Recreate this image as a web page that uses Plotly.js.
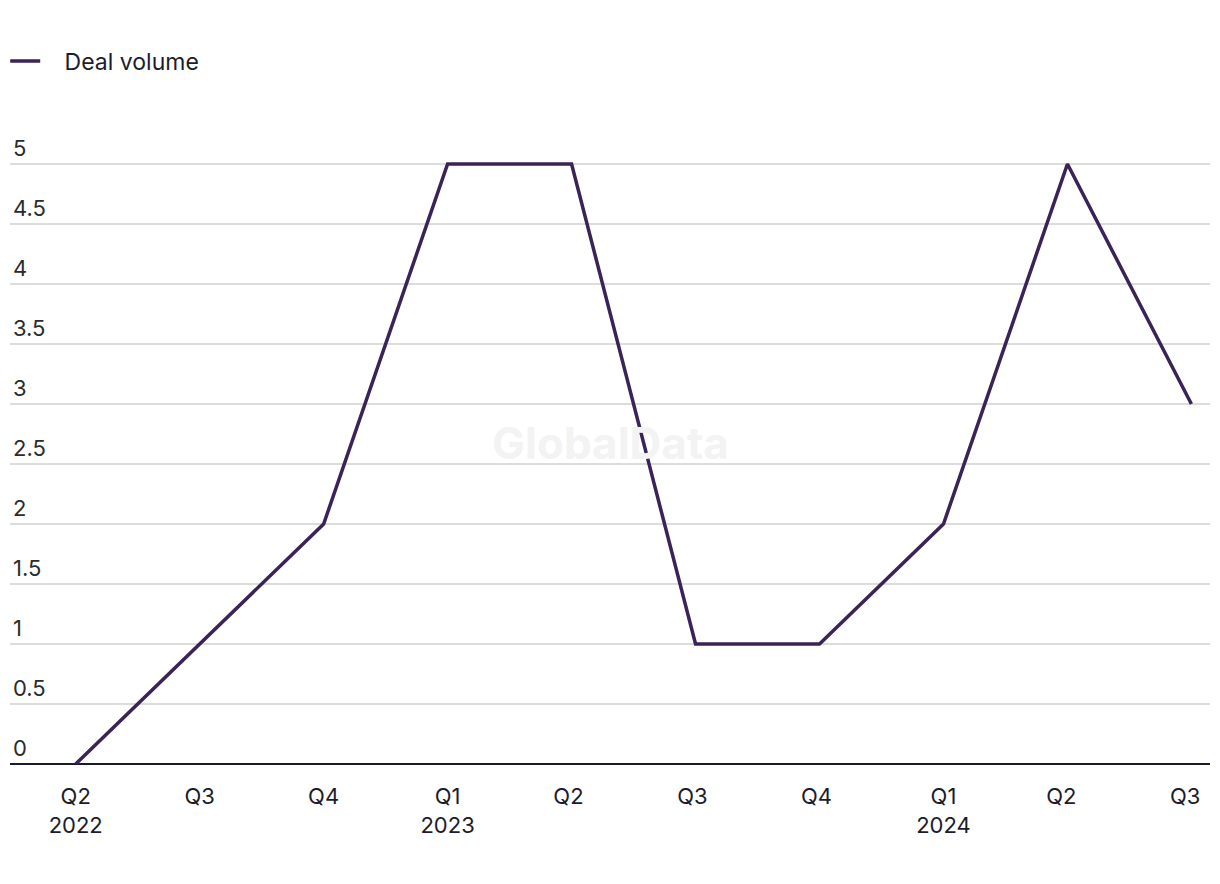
<!DOCTYPE html>
<html>
<head>
<meta charset="utf-8">
<script src="https://cdn.plot.ly/plotly-3.0.1.min.js"></script>
<style>
  html, body { margin: 0; padding: 0; background: #fff; }
  #graph { width: 1220px; height: 884px; }
</style>
</head>
<body>
<div id="graph"></div>
<script>
// deal volume per quarter
var quarters = ["Q2<br>2022", "Q3", "Q4", "Q1<br>2023", "Q2 ", "Q3 ", "Q4 ", "Q1<br>2024", "Q2  ", "Q3  "];
var dealVolume = [0, 1, 2, 5, 5, 1, 1, 2, 5, 3];
var yTicks = [0, 0.5, 1, 1.5, 2, 2.5, 3, 3.5, 4, 4.5, 5];

var trace = {
  x: quarters,
  y: dealVolume,
  mode: "lines",
  type: "scatter",
  name: "&nbsp;&nbsp;&nbsp;Deal volume",
  line: { color: "#3a2457", width: 3.5 }
};

var layout = {
  width: 1220,
  height: 884,
  margin: { l: 10, r: 10, t: 122, b: 120 },
  paper_bgcolor: "#fff",
  plot_bgcolor: "#fff",
  font: { family: "Inter, Liberation Sans, sans-serif", color: "#1c1c2b", size: 20 },
  showlegend: true,
  legend: {
    orientation: "h",
    x: -0.004, xanchor: "left",
    y: 1 - 61 / 884, yref: "container", yanchor: "middle",
    font: { size: 23, color: "#1c1c2b" },
    itemwidth: 30
  },
  xaxis: {
    type: "category",
    range: [-0.53, 9.15],
    showgrid: false,
    showline: false,
    ticks: "outside",
    ticklen: 13,
    tickcolor: "rgba(0,0,0,0)",
    tickfont: { size: 22, color: "#1c1c2b" },
    fixedrange: true
  },
  yaxis: {
    range: [0, 5.35],
    tickvals: yTicks,
    ticktext: yTicks.map(String),
    ticklabelposition: "inside top",
    showgrid: true,
    gridcolor: "#dcdcdc",
    gridwidth: 2,
    zeroline: true,
    zerolinecolor: "#1a1a2e",
    zerolinewidth: 2,
    showline: false,
    tickfont: { size: 22, color: "#2b2b2b" },
    fixedrange: true
  },
  annotations: [{
    text: "<b>GlobalData</b>",
    x: 0.5, y: 0.5, xref: "paper", yref: "paper",
    xanchor: "center", yanchor: "middle",
    showarrow: false,
    font: { size: 44, color: "#f3f3f3" }
  }]
};

Plotly.newPlot(document.getElementById("graph"), [trace], layout, { displayModeBar: false, staticPlot: true });
</script>
</body>
</html>
